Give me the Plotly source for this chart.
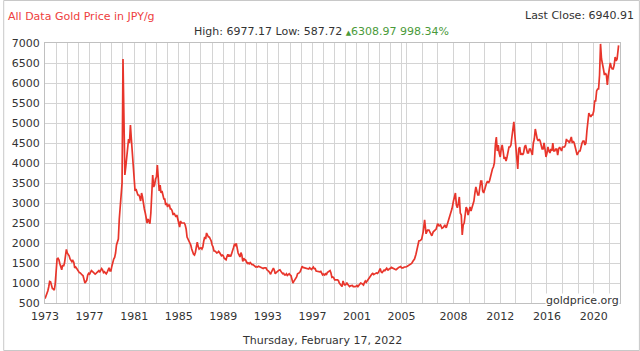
import numpy as np
import plotly.graph_objects as go

# ---------------- data (JPY per gram, monthly) ----------------
start_year = 1973
p1970s = [
    610, 660, 740, 800, 900, 1040, 1030, 900, 860, 850, 820, 980,          # 1973
    1300, 1600, 1620, 1580, 1480, 1400, 1330, 1450, 1420, 1500, 1700, 1840,  # 1974
    1750, 1720, 1680, 1600, 1560, 1530, 1560, 1520, 1380, 1400, 1370, 1330,  # 1975
    1280, 1260, 1250, 1210, 1200, 1180, 1100, 1000, 1030, 1070, 1200, 1240,  # 1976
    1220, 1250, 1310, 1290, 1260, 1220, 1220, 1240, 1260, 1300, 1310, 1270,  # 1977
    1330, 1360, 1330, 1260, 1280, 1250, 1230, 1270, 1310, 1380, 1300, 1300,  # 1978
    1420, 1560, 1600, 1640, 1750, 1950, 2050, 2100, 2600, 2950, 3050, 3500,  # 1979
]
p1980s = [
    6600, 5000, 3700, 3900, 4100, 4350, 4600, 4500, 4950, 4600, 4300, 4000,  # 1980
    3500, 3300, 3350, 3250, 3200, 3200, 3150, 3050, 3250, 3150, 2950, 2850,  # 1981
    2750, 2650, 2500, 2600, 2550, 2480, 2750, 3100, 3700, 3400, 3450, 3600,  # 1982
    3650, 3950, 3450, 3300, 3450, 3250, 3300, 3200, 3100, 3100, 2950, 3000,  # 1983
    2900, 2950, 2950, 2850, 2850, 2800, 2700, 2750, 2700, 2650, 2700, 2600,  # 1984
    2500, 2400, 2550, 2500, 2500, 2500, 2500, 2450, 2350, 2150, 2100, 2050,  # 1985
    2000, 1950, 1850, 1750, 1720, 1700, 1770, 1900, 2020, 1910, 1850, 1870,  # 1986
    1880, 1850, 1900, 2050, 2150, 2100, 2250, 2200, 2150, 2150, 2100, 2050,  # 1987
    1950, 1900, 1800, 1800, 1780, 1750, 1760, 1790, 1760, 1710, 1680, 1700,  # 1988
    1680, 1620, 1600, 1580, 1660, 1720, 1660, 1690, 1660, 1720, 1800, 1880,  # 1989
]
p1990s = [
    1960, 1940, 1990, 1820, 1750, 1700, 1650, 1760, 1700, 1540, 1620, 1580,  # 1990
    1580, 1530, 1490, 1500, 1480, 1510, 1470, 1460, 1460, 1440, 1410, 1400,  # 1991
    1410, 1400, 1420, 1410, 1390, 1380, 1380, 1360, 1380, 1380, 1380, 1330,  # 1992
    1320, 1290, 1260, 1220, 1280, 1350, 1370, 1320, 1230, 1260, 1290, 1310,  # 1993
    1320, 1330, 1280, 1260, 1230, 1240, 1200, 1200, 1230, 1190, 1210, 1230,  # 1994
    1200, 1180, 1090, 1000, 1040, 1080, 1090, 1150, 1230, 1240, 1260, 1290,  # 1995
    1360, 1420, 1390, 1380, 1380, 1360, 1360, 1340, 1350, 1380, 1350, 1340,  # 1996
    1370, 1400, 1360, 1360, 1300, 1290, 1300, 1280, 1280, 1290, 1250, 1200,  # 1997
    1220, 1200, 1230, 1200, 1260, 1270, 1290, 1310, 1250, 1140, 1150, 1130,  # 1998
    1080, 1070, 1080, 1080, 1060, 1000, 980, 940, 910, 1050, 980, 950,       # 1999
]
p2000s = [
    960, 1010, 970, 930, 910, 930, 940, 940, 910, 900, 910, 920,             # 2000
    940, 910, 950, 960, 1000, 990, 980, 950, 1010, 1050, 1020, 1060,         # 2001
    1100, 1140, 1170, 1190, 1220, 1240, 1210, 1240, 1240, 1250, 1240, 1260,  # 2002
    1310, 1360, 1280, 1260, 1290, 1320, 1310, 1330, 1370, 1330, 1330, 1360,  # 2003
    1360, 1390, 1380, 1350, 1360, 1330, 1330, 1350, 1380, 1390, 1400, 1410,  # 2004
    1380, 1380, 1400, 1400, 1420, 1450, 1470, 1490, 1550, 1600, 1720, 1930,  # 2005
    2050, 2060, 2100, 2280, 2580, 2230, 2320, 2320, 2230, 2180, 2280, 2320,  # 2006
    2350, 2480, 2430, 2450, 2370, 2390, 2450, 2380, 2500, 2620, 2800, 2860,  # 2007
    3050, 3200, 3250, 2950, 2880, 2990, 3150, 2750, 2700, 2200, 2450, 2500,  # 2008
    2730, 2900, 2850, 2700, 2800, 2900, 2800, 2870, 2950, 3050, 3250, 3400,  # 2009
]
p2010s = [
    3300, 3200, 3200, 3350, 3550, 3550, 3300, 3250, 3350, 3450, 3500, 3550,  # 2010
    3500, 3550, 3650, 3800, 3850, 3900, 4000, 4450, 4650, 4300, 4450, 4250,  # 2011
    4150, 4350, 4450, 4300, 4100, 4150, 4050, 4150, 4350, 4400, 4400, 4450,  # 2012
    4650, 4900, 5030, 4700, 4400, 4050, 3850, 4350, 4400, 4200, 4250, 4200,  # 2013
    4250, 4400, 4450, 4350, 4250, 4250, 4350, 4350, 4250, 4200, 4500, 4600,  # 2014
    4850, 4700, 4600, 4550, 4600, 4550, 4450, 4350, 4350, 4500, 4350, 4150,  # 2015
    4250, 4400, 4300, 4250, 4350, 4300, 4500, 4300, 4300, 4350, 4350, 4200,  # 2016
    4350, 4400, 4350, 4300, 4400, 4400, 4400, 4450, 4600, 4550, 4550, 4500,  # 2017
    4600, 4650, 4500, 4550, 4500, 4400, 4300, 4200, 4250, 4300, 4300, 4450,  # 2018
    4500, 4550, 4550, 4450, 4500, 4800, 5000, 5250, 5200, 5150, 5200, 5200,  # 2019
]
p2020s = [
    5300, 5550, 5550, 5800, 5850, 5850, 6200, 6977, 6600, 6500, 6350, 6200,  # 2020
    6250, 6200, 5950, 6200, 6350, 6500, 6400, 6350, 6350, 6450, 6650, 6550,  # 2021
    6600, 6940.91,                                                           # 2022 (to Feb 17)
]

x_labels = ["1973", "1977", "1981", "1985", "1989", "1993", "1997", "2001",
            "2005", "2008", "2012", "2016", "2020"]
y_ticks = list(range(500, 7001, 500))

title_text = "All Data Gold Price in JPY/g"
last_close_text = "Last Close: 6940.91"
stats_text = "High: 6977.17 Low: 587.72"
change_text = "6308.97 998.34%"
date_text = "Thursday, February 17, 2022"
credit_text = "goldprice.org"

# ---------------- build series ----------------
values = p1970s + p1980s + p1990s + p2000s + p2010s + p2020s
years = [start_year + i / 12 for i in range(len(values))]
years[-1] = 2022 + 47 / 365

# the source chart's time axis is piecewise (denser after 2005)
anchor_years = [1973, 2005, 2008, 2022.13]
anchor_u = [0, 358.4, 410.6, 576.6]
xu = np.interp(years, anchor_years, anchor_u)
label_u = np.interp([float(s) for s in x_labels], anchor_years, anchor_u)

left_grid = [11.2 * k for k in range(0, 33)]
right_grid = [410.6 + 15.67 * k for k in range(-3, 11)]
minor_grid = [g for g in left_grid + right_grid
              if min(abs(g - t) for t in label_u) > 2]

W, H = 640, 351
L, R, T, B = 42, 20, 43, 48
PW, PH = W - L - R, H - T - B

def px(xp):
    return (xp - L) / PW

def py(yp):
    return (H - B - yp) / PH

font = "DejaVu Sans, Verdana, sans-serif"
txt = "#333333"
grid = "#d4d4d4"

fig = go.Figure()
fig.add_trace(go.Scatter(x=xu, y=values, mode="lines",
                         line=dict(color="#e8352b", width=1.7),
                         hoverinfo="skip", showlegend=False))

fig.update_layout(
    width=W, height=H,
    margin=dict(l=L, r=R, t=T, b=B, pad=0),
    paper_bgcolor="white", plot_bgcolor="white",
    font=dict(family=font, size=11, color=txt),
    xaxis=dict(range=[0, PW], tickmode="array", tickvals=label_u, ticktext=x_labels,
               showgrid=True, gridcolor=grid, gridwidth=1, zeroline=False,
               showline=True, linecolor="#c0c0c0", mirror=True,
               ticks="outside", ticklen=3, tickcolor="rgba(0,0,0,0)",
               tickfont=dict(family=font, size=11, color=txt),
               minor=dict(tickmode="array", tickvals=minor_grid, showgrid=True,
                          gridcolor=grid, gridwidth=1, ticks="")),
    yaxis=dict(range=[500, 7000], tickmode="array", tickvals=y_ticks,
               showgrid=True, gridcolor=grid, gridwidth=1, zeroline=False,
               showline=True, linecolor="#c0c0c0", mirror=True,
               ticks="outside", ticklen=2, tickcolor="rgba(0,0,0,0)",
               tickfont=dict(family=font, size=11, color=txt)),
)

ann = [
    dict(text=title_text, x=px(3), y=py(17), xanchor="left", yanchor="middle",
         font=dict(family=font, size=11, color="#ee4040")),
    dict(text=last_close_text, x=px(636), y=py(16), xanchor="right", yanchor="middle",
         font=dict(family=font, size=11, color=txt)),
    dict(text=stats_text + " <span style='color:#4a9a3a'><span style='font-size:7px'>▲</span>"
              + change_text + "</span>",
         x=px(320), y=py(31.5), xanchor="center", yanchor="middle",
         font=dict(family=font, size=11, color=txt)),
    dict(text=date_text, x=px(320), y=py(340), xanchor="center", yanchor="middle",
         font=dict(family=font, size=11, color=txt)),
    dict(text=credit_text, x=px(620), y=py(300), xanchor="right", yanchor="middle",
         bgcolor="white", borderpad=0,
         font=dict(family=font, size=11, color=txt)),
]
for a in ann:
    a.update(xref="paper", yref="paper", showarrow=False)
fig.update_layout(annotations=ann)

fig.add_shape(type="rect", xref="paper", yref="paper",
              x0=px(0.5), x1=px(W - 0.5), y0=py(H - 0.5), y1=py(0.5),
              line=dict(color="#c8c8c8", width=1), fillcolor="rgba(0,0,0,0)",
              layer="below")

fig.write_html("out.html")
